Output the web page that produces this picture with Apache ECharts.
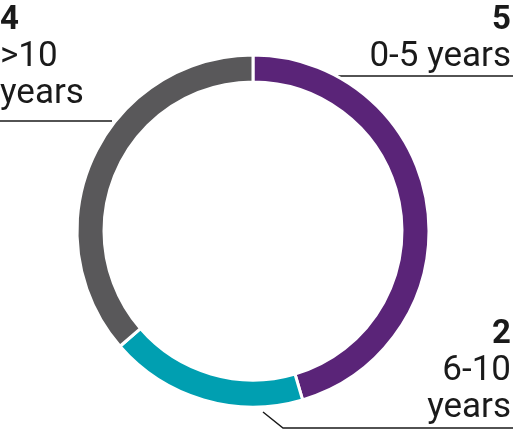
<!DOCTYPE html>
<html>
<head>
<meta charset="utf-8">
<script src="https://cdn.jsdelivr.net/npm/echarts@6/dist/echarts.min.js"></script>
<style>
  html, body { margin: 0; padding: 0; background: #fff; }
  #chart { width: 513px; height: 430px; }
</style>
</head>
<body>
<div id="chart"></div>
<script>
// tenure groups
const categories = ['0-5 years', '6-10 years', '>10 years']
const counts = [5, 2, 4]
const colors = ['#5a2478', '#009fb1', '#59585a']

// where each label sits and its leader line
const labelSpots = [
  { x: 511, y: 2, align: 'right', line: [[338, 76], [338, 76], [513, 76]] },
  { x: 511, y: 316, align: 'right', line: [[263, 412], [283, 428], [513, 428]] },
  { x: 0, y: 2, align: 'left', line: [[112, 121], [112, 121], [0, 121]] }
]

const chart = echarts.init(document.getElementById('chart'))

chart.setOption({
  animation: false,
  series: [{
    type: 'pie',
    center: [253, 231],
    radius: [149, 176],
    startAngle: 90,
    clockwise: true,
    itemStyle: {
      borderColor: '#fff',
      borderWidth: 3
    },
    label: {
      show: true,
      position: 'outside',
      overflow: 'none',
      width: 300,
      color: '#1a1a1a',
      fontFamily: 'Roboto',
      fontSize: 35,
      lineHeight: 37,
      formatter: p => '{v|' + p.value + '}\n' + p.name.replace(/ /, (p.dataIndex === 0 ? ' ' : '\n')),
      rich: {
        v: { fontWeight: 'bold', fontSize: 33, lineHeight: 37, fontFamily: 'Roboto', color: '#1a1a1a' }
      }
    },
    labelLine: {
      show: true,
      lineStyle: { color: '#1a1a1a', width: 1.5 }
    },
    labelLayout: p => {
      const s = labelSpots[p.dataIndex]
      return {
        x: s.x,
        y: s.y,
        align: s.align,
        verticalAlign: 'top',
        labelLinePoints: s.line
      }
    },
    data: categories.map((c, i) => ({
      name: c,
      value: counts[i],
      itemStyle: { color: colors[i] }
    }))
  }]
})
</script>
</body>
</html>
